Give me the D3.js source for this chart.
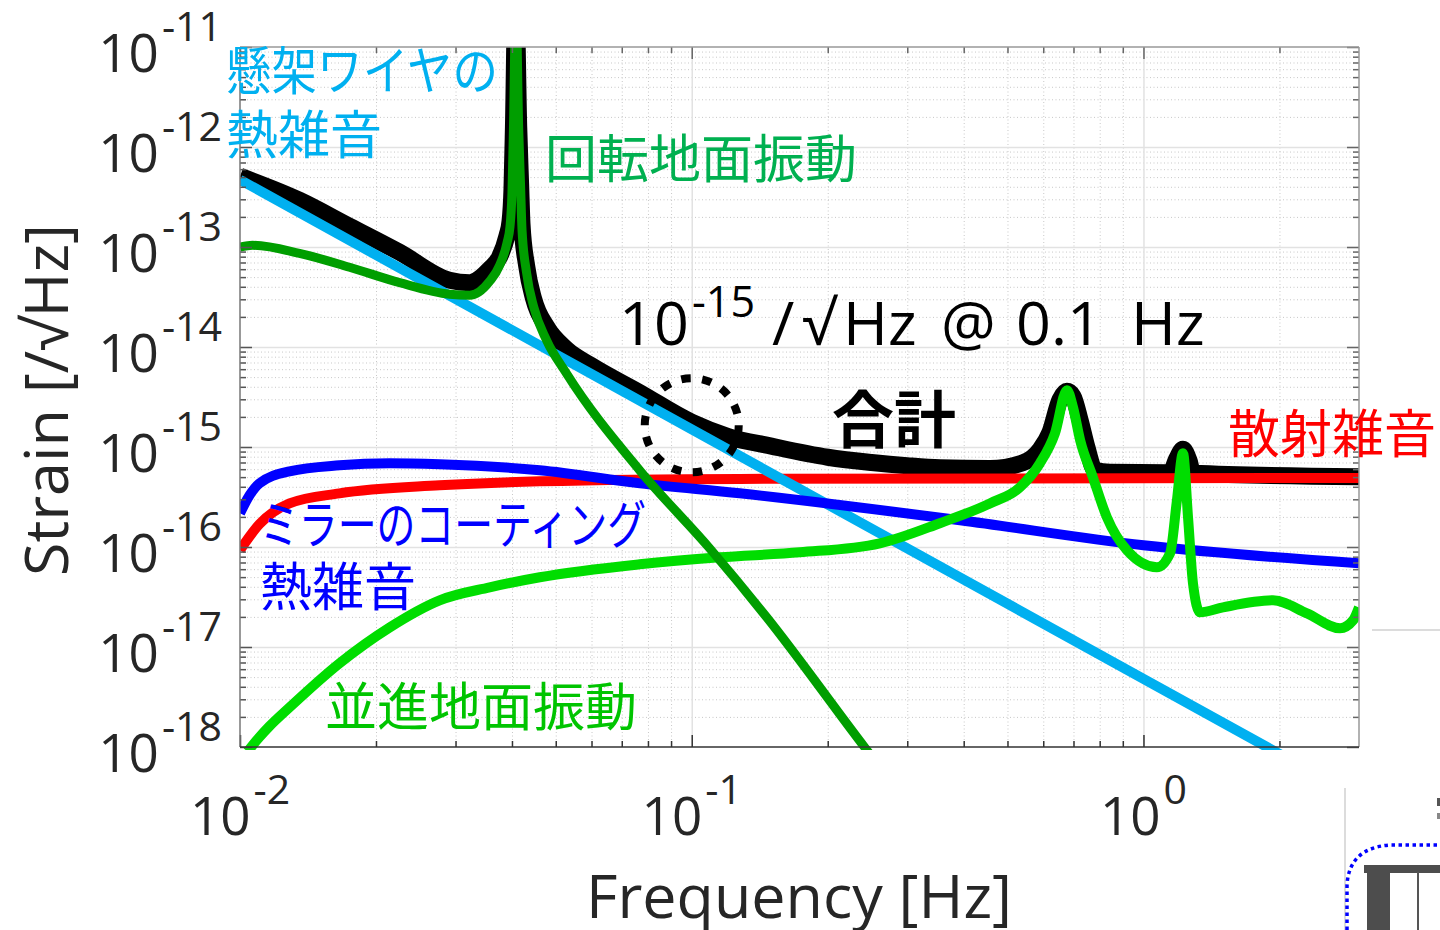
<!DOCTYPE html>
<html>
<head>
<meta charset="utf-8">
<script src="https://cdn.jsdelivr.net/npm/d3@7"></script>
<style>
  html, body { margin: 0; padding: 0; background: #fff; }
  svg { display: block; }
  .num { font-family: "Open Sans", "DejaVu Sans", sans-serif; fill: #262626; }
  .jp { font-family: "Noto Sans CJK JP", sans-serif; }
</style>
</head>
<body>
<div id="chart"></div>
<script>
// Axis ticks
const freqMajor = [0.01, 0.1, 1];
const strainMajor = [1e-18, 1e-17, 1e-16, 1e-15, 1e-14, 1e-13, 1e-12, 1e-11];

// Series, [frequency Hz, strain /rtHz]
const suspensionThermal = [[0.01, 4.7e-13], [0.1, 1.5e-15], [1, 4.8e-18], [3, 3.1e-19]];

const coatingThermal = [
  [0.01, 2.17e-16], [0.0105, 3.29e-16], [0.01104, 4.33e-16], [0.01287, 5.71e-16],
  [0.0166, 6.56e-16], [0.02144, 6.87e-16], [0.02766, 6.71e-16], [0.0461, 5.85e-16],
  [0.0768, 4.33e-16], [0.1277, 3.44e-16], [0.3927, 1.85e-16], [1.0, 1.04e-16], [3.0, 6.87e-17]
];

const scatterNoise = [
  [0.01, 9.3e-17], [0.01104, 1.69e-16], [0.01287, 2.73e-16], [0.0166, 3.44e-16],
  [0.02766, 4.14e-16], [0.0461, 4.54e-16], [0.1277, 4.8e-16], [3.0, 4.9e-16]
];

const rotationalSeismic = [
  [0.01, 1.0e-13], [0.01066, 1.04e-13], [0.01354, 8.65e-14], [0.01748, 6.27e-14],
  [0.02256, 4.4e-14], [0.0291, 3.37e-14], [0.03224, 3.29e-14], [0.0357, 4.54e-14],
  [0.03757, 6.56e-14], [0.0390, 1.1e-13], [0.0396, 1.6e-13], [0.0400, 3.5e-13],
  [0.0403, 1.5e-12], [0.0408, 3e-11], [0.0414, 1.5e-12], [0.0418, 4e-13],
  [0.0421, 1.5e-13], [0.0431, 5.5e-14], [0.0447, 2.5e-14], [0.0477, 1.17e-14],
  [0.0528, 5.46e-15], [0.0767, 5.85e-16], [0.1096, 9.7e-17], [0.1466, 1.98e-17],
  [0.2416, 9.9e-19], [0.2609, 6.3e-19]
];

const translationalSeismic = [
  [0.0104, 9.0e-19], [0.01066, 1.04e-18], [0.01162, 1.61e-18], [0.01287, 2.49e-18],
  [0.0166, 6.87e-18], [0.02144, 1.57e-17], [0.02766, 2.93e-17], [0.0357, 3.95e-17],
  [0.0461, 4.98e-17], [0.0767, 6.71e-17], [0.1153, 7.89e-17], [0.1734, 8.85e-17],
  [0.2609, 1.09e-16], [0.3541, 1.73e-16], [0.4571, 2.73e-16], [0.5325, 3.95e-16],
  [0.5898, 6.87e-16], [0.6369, 1.37e-15], [0.6771, 3.69e-15], [0.6983, 2.49e-15],
  [0.7241, 1.17e-15], [0.7728, 4.98e-16], [0.83, 1.98e-16], [0.9194, 9.27e-17],
  [1.071, 6.27e-17], [1.145, 8.65e-17], [1.186, 2.93e-16], [1.223, 8.65e-16],
  [1.255, 1.98e-16], [1.287, 4.34e-17], [1.334, 2.22e-17], [1.5, 2.49e-17],
  [1.936, 2.93e-17], [2.302, 2.17e-17], [2.724, 1.54e-17], [2.911, 1.85e-17], [3.0, 2.49e-17]
];

const totalNoise = [
  [0.01, 5.09e-13], [0.01354, 2.93e-13], [0.01748, 1.61e-13], [0.02256, 8.85e-14],
  [0.0291, 4.65e-14], [0.03224, 4.4e-14], [0.0357, 6.0e-14], [0.03757, 8.0e-14],
  [0.0390, 1.3e-13], [0.0396, 1.8e-13], [0.0400, 3.8e-13], [0.0403, 1.6e-12],
  [0.0408, 3e-11], [0.0414, 1.6e-12], [0.0418, 4.3e-13], [0.0421, 1.7e-13],
  [0.0431, 6.5e-14], [0.0447, 3.0e-14], [0.0477, 1.6e-14], [0.0528, 9.5e-15],
  [0.06, 6.5e-15], [0.0767, 3.5e-15], [0.1, 1.77e-15], [0.12, 1.28e-15],
  [0.15, 1.02e-15], [0.2, 7.9e-16], [0.25, 7.0e-16], [0.3, 6.5e-16],
  [0.3541, 6.2e-16], [0.4571, 6.1e-16], [0.5408, 6.95e-16], [0.5898, 9.4e-16],
  [0.6208, 1.4e-15], [0.6533, 2.97e-15], [0.6771, 3.6e-15], [0.6983, 3.21e-15],
  [0.7241, 1.85e-15], [0.7498, 9.9e-16], [0.7808, 5.85e-16], [0.843, 5.58e-16],
  [1.145, 5.52e-16], [1.186, 7.7e-16], [1.223, 9.5e-16], [1.261, 7.36e-16],
  [1.287, 5.46e-16], [3.0, 5.04e-16]
];

const W = 1440, H = 930;
const margin = { top: 47, left: 240 };
const plotW = 1119, plotH = 700;

const svg = d3.select('#chart').append('svg')
  .attr('width', W).attr('height', H);

const x = d3.scaleLog().domain([0.01, 3]).range([0, plotW]);
const y = d3.scaleLog().domain([1e-18, 1e-11]).range([plotH, 0]);

const isMajor = v => Math.abs(Math.log10(v) - Math.round(Math.log10(v))) < 1e-6;
const xMinor = x.ticks(20).filter(v => !isMajor(v) && v < 2.999);
const yMinor = y.ticks(20).filter(v => !isMajor(v));

const g = svg.append('g').attr('transform', `translate(${margin.left},${margin.top})`);

// Grid lines
function grid(axis, vals, size, color, dash, w) {
  const gg = g.append('g')
    .attr('transform', axis === 'x' ? `translate(0,${plotH})` : null)
    .call((axis === 'x' ? d3.axisBottom(x) : d3.axisLeft(y))
      .tickValues(vals).tickSize(-size).tickFormat(''));
  gg.select('.domain').remove();
  gg.selectAll('line').attr('stroke', color).attr('stroke-width', w)
    .attr('stroke-dasharray', dash);
}
grid('x', xMinor, plotH, '#c8c8c8', '1,2.5', 1);
grid('y', yMinor, plotW, '#c8c8c8', '1,2.5', 1);
grid('x', freqMajor.slice(1), plotH, '#e2e2e2', null, 1.5);
grid('y', strainMajor.slice(1, -1), plotW, '#e2e2e2', null, 1.5);

// Lines
svg.append('defs').append('clipPath').attr('id', 'plot-clip')
  .append('rect').attr('x', 0).attr('y', 0).attr('width', plotW).attr('height', plotH + 3);

const line = d3.line()
  .x(d => x(d[0]))
  .y(d => y(d[1]))
  .curve(d3.curveMonotoneX);

const series = [
  { data: totalNoise, color: '#000000', width: 17 },
  { data: scatterNoise, color: '#ff0000', width: 10 },
  { data: suspensionThermal, color: '#00b0f0', width: 10 },
  { data: coatingThermal, color: '#0000ff', width: 10 },
  { data: translationalSeismic, color: '#00dd00', width: 10 },
  { data: rotationalSeismic, color: '#009e00', width: 9 }
];

const plot = g.append('g').attr('clip-path', 'url(#plot-clip)');
series.forEach(s => {
  plot.append('path')
    .datum(s.data)
    .attr('fill', 'none')
    .attr('stroke', s.color)
    .attr('stroke-width', s.width)
    .attr('stroke-linejoin', 'round')
    .attr('d', line);
});

// Axes (ticks inward, box)
function ticks(gen, vals, len, color, tr) {
  const a = g.append('g').attr('transform', tr)
    .call(gen.tickValues(vals).tickSize(-len).tickFormat(''));
  a.select('.domain').remove();
  a.selectAll('line').attr('stroke', color).attr('stroke-width', 1.5);
}
ticks(d3.axisBottom(x), freqMajor, 12, '#333', `translate(0,${plotH})`);
ticks(d3.axisBottom(x), xMinor, 6, '#333', `translate(0,${plotH})`);
ticks(d3.axisTop(x), freqMajor, 12, '#666', null);
ticks(d3.axisTop(x), xMinor, 6, '#666', null);
ticks(d3.axisLeft(y), strainMajor, 12, '#555', null);
ticks(d3.axisLeft(y), yMinor, 6, '#555', null);
ticks(d3.axisRight(y), strainMajor, 12, '#666', `translate(${plotW},0)`);
ticks(d3.axisRight(y), yMinor, 6, '#666', `translate(${plotW},0)`);

g.append('line').attr('x1', 0).attr('x2', plotW).attr('y1', 0).attr('y2', 0)
  .attr('stroke', '#999').attr('stroke-width', 1.5);
g.append('line').attr('x1', plotW).attr('x2', plotW).attr('y1', 0).attr('y2', plotH)
  .attr('stroke', '#999').attr('stroke-width', 1.5);
g.append('line').attr('x1', 0).attr('x2', 0).attr('y1', 0).attr('y2', plotH)
  .attr('stroke', '#777').attr('stroke-width', 1.5);
g.append('line').attr('x1', 0).attr('x2', plotW).attr('y1', plotH).attr('y2', plotH)
  .attr('stroke', '#333').attr('stroke-width', 1.5);

// Tick labels
const yLab = svg.append('g').selectAll('text').data(strainMajor).join('text')
  .attr('class', 'num')
  .attr('x', 222)
  .attr('y', d => margin.top + y(d) + 25)
  .attr('text-anchor', 'end')
  .attr('font-size', 53);
yLab.append('tspan').text('10');
yLab.append('tspan').attr('dx', 3).attr('dy', -31).attr('font-size', 41).text(d => Math.round(Math.log10(d)));

const xLab = svg.append('g').selectAll('text').data(freqMajor).join('text')
  .attr('class', 'num')
  .attr('x', d => margin.left + x(d))
  .attr('y', 835)
  .attr('text-anchor', 'middle')
  .attr('font-size', 53);
xLab.append('tspan').text('10');
xLab.append('tspan').attr('dx', 3).attr('dy', -31).attr('font-size', 41).text(d => Math.round(Math.log10(d)));

// Axis titles
svg.append('text').attr('class', 'num')
  .attr('transform', 'translate(68,400) rotate(-90)')
  .attr('text-anchor', 'middle').attr('font-size', 61)
  .text('Strain [/√Hz]');
svg.append('text').attr('class', 'num')
  .attr('x', 799).attr('y', 918)
  .attr('text-anchor', 'middle').attr('font-size', 61)
  .text('Frequency [Hz]');

// Annotations
g.append('circle')
  .attr('cx', x(0.1)).attr('cy', y(1.65e-15)).attr('r', 47)
  .attr('fill', 'none').attr('stroke', '#000').attr('stroke-width', 8)
  .attr('pathLength', 280).attr('stroke-dasharray', '9 11');

const note = svg.append('text').attr('class', 'num').style('fill', '#000')
  .attr('y', 345).attr('font-size', 61);
note.append('tspan').attr('x', 619).text('10');
note.append('tspan').attr('x', 692).attr('dy', -28).attr('font-size', 43).text('-15');
note.append('tspan').attr('x', 772).attr('dy', 28).text('/');
note.append('tspan').attr('x', 802).text('√');
note.append('tspan').attr('x', 843).text('Hz');
note.append('tspan').attr('x', 941).text('@');
note.append('tspan').attr('x', 1016).text('0.1');
note.append('tspan').attr('x', 1131).text('Hz');

const labels = [
  { t: '懸架ワイヤの', x: 226, y: 90, c: '#00b0f0', len: 272 },
  { t: '熱雑音', x: 226, y: 154, c: '#00b0f0' },
  { t: '回転地面振動', x: 545, y: 178, c: '#00b050' },
  { t: '散射雑音', x: 1228, y: 453, c: '#ff0000' },
  { t: 'ミラーのコーティング', x: 260, y: 544, c: '#0000ff', len: 386 },
  { t: '熱雑音', x: 260, y: 606, c: '#0000ff' },
  { t: '並進地面振動', x: 325, y: 726, c: '#00c400' }
];
const lab = svg.append('g').selectAll('text').data(labels).join('text')
  .attr('class', 'jp')
  .attr('x', d => d.x).attr('y', d => d.y)
  .attr('font-size', 52)
  .attr('fill', d => d.c)
  .text(d => d.t);
lab.filter(d => d.len)
  .attr('textLength', d => d.len)
  .attr('lengthAdjust', 'spacingAndGlyphs');

svg.append('text').attr('class', 'jp')
  .attr('x', 832).attr('y', 443)
  .attr('font-size', 62).attr('font-weight', 700)
  .attr('fill', '#000').text('合計');

// Slide fragments at the bottom right
const frag = svg.append('g');
frag.append('line').attr('x1', 1372).attr('x2', 1440).attr('y1', 630).attr('y2', 630)
  .attr('stroke', '#d0d0d0').attr('stroke-width', 1.5);
frag.append('line').attr('x1', 1345).attr('x2', 1345).attr('y1', 788).attr('y2', 930)
  .attr('stroke', '#d0d0d0').attr('stroke-width', 1.5);
frag.append('path').attr('d', 'M1347,930 L1347,885 Q1349,848 1390,845 L1440,845')
  .attr('fill', 'none').attr('stroke', '#0000ff').attr('stroke-width', 3.5)
  .attr('stroke-dasharray', '3.5 3.5');
frag.append('rect').attr('x', 1364).attr('y', 865).attr('width', 76).attr('height', 8).attr('fill', '#4d4d4d');
frag.append('rect').attr('x', 1367).attr('y', 872).attr('width', 23).attr('height', 58).attr('fill', '#4d4d4d');
frag.append('line').attr('x1', 1418).attr('x2', 1418).attr('y1', 872).attr('y2', 930)
  .attr('stroke', '#555').attr('stroke-width', 2);
frag.append('rect').attr('x', 1437).attr('y', 798).attr('width', 3).attr('height', 8).attr('fill', '#555');
frag.append('rect').attr('x', 1437).attr('y', 813).attr('width', 3).attr('height', 6).attr('fill', '#888');
</script>
</body>
</html>
